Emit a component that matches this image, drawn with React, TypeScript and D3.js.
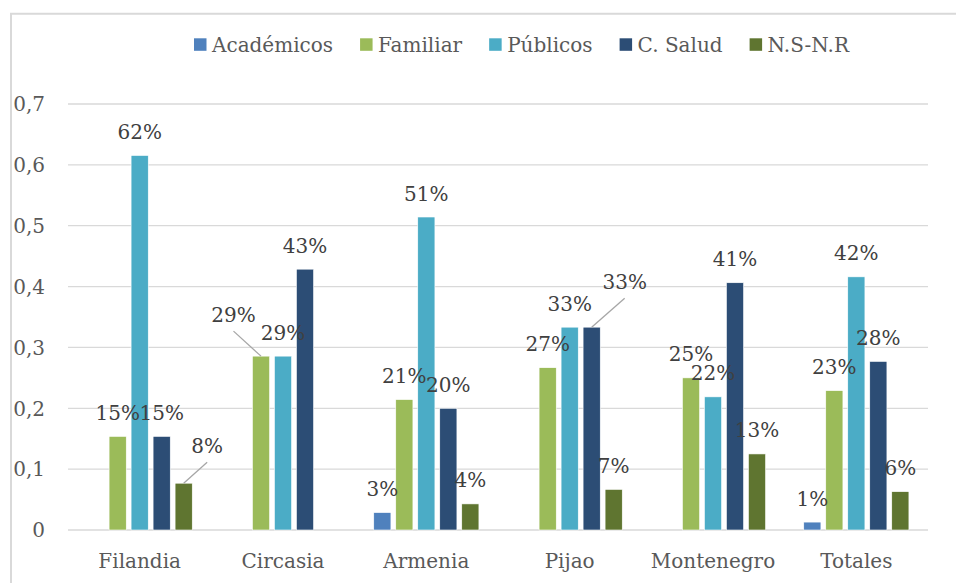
import React from "react";
import * as d3 from "d3";

const categories = ["Filandia", "Circasia", "Armenia", "Pijao", "Montenegro", "Totales"];
const seriesNames = ["Académicos", "Familiar", "Públicos", "C. Salud", "N.S-N.R"];
const academicos = [0, 0, 0.0286, 0, 0, 0.013];
const familiar = [0.1538, 0.2857, 0.2143, 0.2667, 0.25, 0.229];
const publicos = [0.6154, 0.2857, 0.5143, 0.3333, 0.2188, 0.416];
const cSalud = [0.1538, 0.4286, 0.2, 0.3333, 0.4063, 0.277];
const nsnr = [0.0769, 0, 0.0429, 0.0667, 0.125, 0.063];
const yTicks = [0, 0.1, 0.2, 0.3, 0.4, 0.5, 0.6, 0.7];

const seriesValues = [academicos, familiar, publicos, cSalud, nsnr];
const colors = ["#4f81bd", "#9bbb59", "#4bacc6", "#2c4d75", "#5f7530"];

// labels moved away from their bars (with leader lines): key "cat|series"
const labelShift: Record<string, { dx: number; dy: number }> = {
  "Filandia|N.S-N.R": { dx: 23.5, dy: -13.5 },
  "Circasia|Familiar": { dx: -27.5, dy: -17.5 },
  "Pijao|C. Salud": { dx: 33, dy: -21.5 },
};

const W = 956;
const H = 583;
const FONT = "DejaVu Serif";

function measure(text: string, size: number) {
  const c = document.createElement("canvas");
  const ctx = c.getContext("2d");
  if (!ctx) return text.length * size * 0.6;
  ctx.font = `${size}px "${FONT}"`;
  return ctx.measureText(text).width;
}

export default function App() {
  const left = 68;
  const right = 928;
  const top = 104;
  const bottom = 530;

  const x0 = d3.scaleBand<string>().domain(categories).range([left, right]).padding(0);
  const groupW = 110;
  const x1 = d3
    .scaleBand<string>()
    .domain(seriesNames)
    .range([(x0.bandwidth() - groupW) / 2, (x0.bandwidth() + groupW) / 2])
    .paddingInner(0.22)
    .paddingOuter(0.11);
  const y = d3.scaleLinear().domain([0, 0.7]).range([bottom, top]);
  const fmtTick = (v: number) => (v === 0 ? "0" : d3.format(".1f")(v).replace(".", ","));

  // legend layout
  const legendItems: { name: string; color: string; x: number }[] = [];
  let lx = 194;
  seriesNames.forEach((n, i) => {
    legendItems.push({ name: n, color: colors[i], x: lx });
    lx += 12.5 + 5.5 + measure(n, 20) + 27;
  });

  const bars: JSX.Element[] = [];
  const labels: JSX.Element[] = [];
  categories.forEach((cat, ci) => {
    seriesNames.forEach((s, si) => {
      const v = seriesValues[si][ci];
      if (!v) return;
      const bx = (x0(cat) ?? 0) + (x1(s) ?? 0);
      const bw = x1.bandwidth();
      const by = y(v);
      bars.push(
        <rect
          key={`b-${ci}-${si}`}
          x={bx}
          y={by}
          width={bw}
          height={y(0) - by}
          fill={colors[si]}
          stroke="#ffffff"
          strokeWidth={0.6}
        />
      );
      const cx = bx + bw / 2;
      const shift = labelShift[`${cat}|${s}`];
      const lxp = cx + (shift ? shift.dx : 0);
      const lyp = by - 16.5 + (shift ? shift.dy : 0);
      if (shift) {
        labels.push(
          <line
            key={`l-${ci}-${si}`}
            x1={lxp}
            y1={lyp + 9}
            x2={cx}
            y2={by}
            stroke="#a6a6a6"
            strokeWidth={1.3}
          />
        );
      }
      labels.push(
        <text
          key={`t-${ci}-${si}`}
          x={lxp}
          y={lyp}
          textAnchor="middle"
          fontSize={20}
          fill="#404040"
          fontFamily={FONT}
        >
          {Math.round(v * 100) + "%"}
        </text>
      );
    });
  });

  return (
    <svg
      width={W}
      height={H}
      style={{ position: "absolute", left: 0, top: 0, display: "block", background: "#fff" }}
    >
      <rect x={0} y={0} width={W} height={H} fill="#ffffff" />
      <path d={`M11,${H}V13.7H${W}`} fill="none" stroke="#d9d9d9" strokeWidth={2} />

      {/* gridlines */}
      {yTicks.map((t) => (
        <line
          key={`g-${t}`}
          x1={left}
          x2={right}
          y1={y(t)}
          y2={y(t)}
          stroke="#d9d9d9"
          strokeWidth={1.3}
        />
      ))}
      {yTicks.map((t) => (
        <text
          key={`yt-${t}`}
          x={45}
          y={y(t) + 7.3}
          textAnchor="end"
          fontSize={20}
          fill="#595959"
          fontFamily={FONT}
        >
          {fmtTick(t)}
        </text>
      ))}

      {bars}
      {labels}

      {categories.map((c) => (
        <text
          key={`xc-${c}`}
          x={(x0(c) ?? 0) + x0.bandwidth() / 2}
          y={568}
          textAnchor="middle"
          fontSize={20}
          fill="#595959"
          fontFamily={FONT}
        >
          {c}
        </text>
      ))}

      {legendItems.map((it) => (
        <g key={`lg-${it.name}`}>
          <rect x={it.x} y={38.3} width={12.5} height={12.5} fill={it.color} />
          <text x={it.x + 18} y={52.3} fontSize={20} fill="#595959" fontFamily={FONT}>
            {it.name}
          </text>
        </g>
      ))}
    </svg>
  );
}
